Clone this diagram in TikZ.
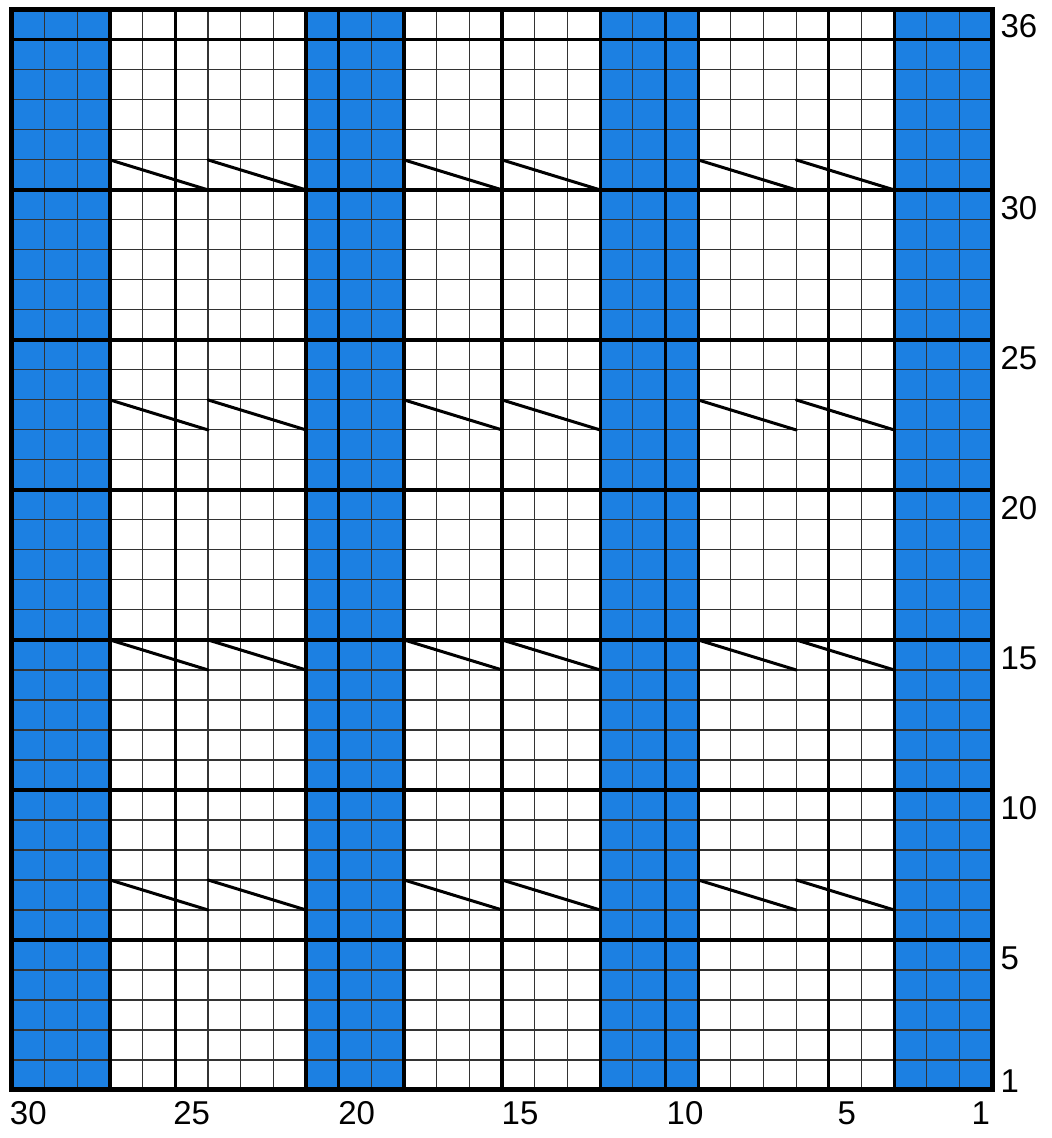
\documentclass[tikz,border=0pt]{standalone}
\usepackage{fontspec}
\setmainfont{Liberation Sans}
\usepackage{tikz}
\definecolor{chartblue}{RGB}{28,128,226}

\begin{document}
\begin{tikzpicture}[x=32.67pt, y=30pt,
        band/.style={fill=chartblue, draw=none},
        thinrule/.style={draw=black!80, line width=1.1pt},
        thickrule/.style={draw=black, line width=3.2pt},
        border/.style={draw=black, line width=5pt},
        slant/.style={draw=black, line width=3pt, line cap=round},
        lbl/.style={font=\fontsize{33}{36}\selectfont, inner sep=0pt}]

        \useasboundingbox (-0.367,-1.6) rectangle (31.83,36.33);

        % blue bands (columns 28-30, 19-21, 10-12, 1-3)
        \foreach \c in {0,9,18,27}
            \fill[band] (\c,0) rectangle ++(3,36);

        % thin grid, one square per stitch
        \foreach \c in {1,...,29}
            \draw[thinrule] (\c,0) -- (\c,36);
        \foreach \r in {1,...,35}
            \draw[thinrule] (0,\r) -- (30,\r);

        % thick rules every 5 rows and every 5 stitches
        \foreach \r in {5,10,...,35}
            \draw[thickrule] (0,\r) -- (30,\r);
        \foreach \c in {5,10,...,25}
            \draw[thickrule] (\c,0) -- (\c,36);

        % thick rules at the band edges
        \foreach \c in {3,9,12,18,21,27}
            \draw[thickrule] (\c,0) -- (\c,36);

        \draw[border] (0,0) rectangle (30,36);

        % cable symbols in rows 7, 15, 23, 31
        \foreach \r in {7,15,23,31}
            \foreach \c in {3,6,12,15,21,24}
                \draw[slant] (\c,\r) -- ++(3,-1);

        % row numbers
        \node[lbl, anchor=west] (row36) at (30.25,35.45) {36};
        \node[lbl, anchor=west] (row30) at (30.25,29.4) {30};
        \node[lbl, anchor=west] (row25) at (30.25,24.4) {25};
        \node[lbl, anchor=west] (row20) at (30.25,19.4) {20};
        \node[lbl, anchor=west] (row15) at (30.25,14.4) {15};
        \node[lbl, anchor=west] (row10) at (30.25,9.4) {10};
        \node[lbl, anchor=west] (row5) at (30.25,4.4) {5};
        \node[lbl, anchor=west] (row1) at (30.25,0.3) {1};

        % stitch numbers
        \node[lbl] (col30) at (0.5,-0.77) {30};
        \node[lbl] (col25) at (5.5,-0.77) {25};
        \node[lbl] (col20) at (10.55,-0.77) {20};
        \node[lbl] (col15) at (15.55,-0.77) {15};
        \node[lbl] (col10) at (20.6,-0.77) {10};
        \node[lbl] (col5) at (25.55,-0.77) {5};
        \node[lbl] (col1) at (29.65,-0.77) {1};

    \end{tikzpicture}
\end{document}
